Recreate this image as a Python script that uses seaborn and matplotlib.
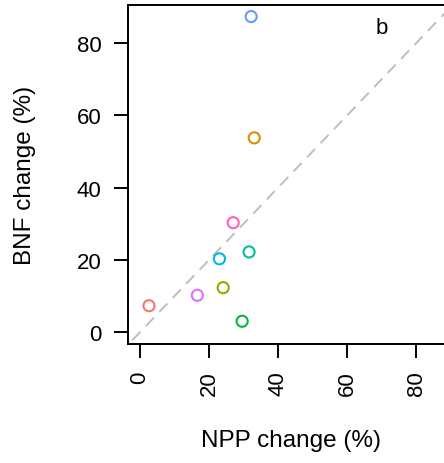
import numpy as np
import pandas as pd
import matplotlib
matplotlib.use("Agg")
import matplotlib.pyplot as plt
import seaborn as sns

# values
groups = ["s1", "s2", "s3", "s4", "s5", "s6", "s7", "s8", "s9"]
npp_change = [2.6, 33.1, 24.1, 29.6, 31.6, 23.0, 32.2, 16.6, 27.0]
bnf_change = [7.3, 53.8, 12.3, 3.0, 22.2, 20.3, 87.4, 10.2, 30.3]
hue_colors = ["#F8766D", "#D39200", "#93AA00", "#00BA38", "#00C19F",
              "#00B9E3", "#619CFF", "#DB72FB", "#FF61C3"]

df = pd.DataFrame({"group": groups, "npp": npp_change, "bnf": bnf_change})

sns.set_style("ticks")
plt.rcParams["font.family"] = ["Liberation Sans", "DejaVu Sans"]
plt.rcParams["text.color"] = "black"
plt.rcParams["axes.labelcolor"] = "black"

fig = plt.figure(figsize=(4.44, 4.64), dpi=100)
ax = fig.add_axes([128 / 444, 1 - 345 / 464, 317 / 444, 339 / 464])

xlim = (-3.5, 88.4)
ylim = (-3.3, 90.6)
lo, hi = -10, 100
ax.plot([lo, hi], [lo, hi], color="#BEBEBE", lw=1.4, ls=(0, (6, 4)), zorder=1)

sns.scatterplot(data=df, x="npp", y="bnf", hue="group", palette=hue_colors,
                facecolor="none", s=64, linewidth=1.5, legend=False, ax=ax,
                zorder=3)
# open circles: take the hue colours for the edges
for coll in ax.collections:
    fc = coll.get_facecolors()
    coll.set_edgecolors(fc)
    coll.set_facecolors("none")

ax.set_xlim(*xlim)
ax.set_ylim(*ylim)
ax.set_xticks([0, 20, 40, 60, 80])
ax.set_yticks([0, 20, 40, 60, 80])
ax.tick_params(axis="both", direction="out", length=10, width=1.4,
               labelsize=16, color="black", labelcolor="black")
ax.tick_params(axis="x", labelrotation=90, pad=9)
ax.tick_params(axis="y", pad=9)
for sp in ax.spines.values():
    sp.set_linewidth(1.4)
    sp.set_color("black")

ax.set_xlabel("NPP change (%)", fontsize=17.5, va="center", color="black")
ax.set_ylabel("BNF change (%)", fontsize=17.5, va="center", color="black")
ax.xaxis.set_label_coords(0.514, -0.283)
ax.yaxis.set_label_coords(-0.325, 0.5)
ax.text(0.8, 0.935, "b", transform=ax.transAxes, fontsize=16,
        ha="center", va="center", color="black")

fig.savefig("out.png", dpi=100)
